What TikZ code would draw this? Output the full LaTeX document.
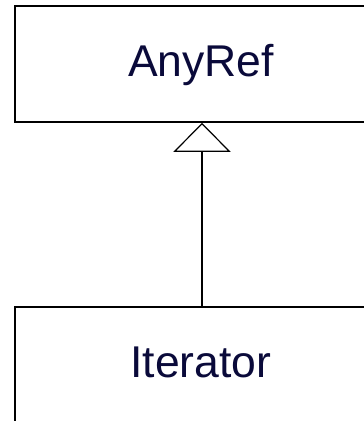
\documentclass[tikz,border=0pt]{standalone}
\usepackage{fontspec}
\setmainfont{Liberation Sans}
\usetikzlibrary{arrows.meta}
\definecolor{txtnavy}{HTML}{0A0A3A}
\tikzset{
  classbox/.style={draw=black, line width=1.6pt, fill=white, rectangle,
    minimum width=372pt, minimum height=116pt, inner sep=0pt,
    text=txtnavy, font=\fontsize{44.5}{52}\selectfont,
    text height=32pt, text depth=8pt},
  inherit/.style={line width=1.4pt, draw=black,
    -{Triangle[open, length=29pt, width=57pt, line width=1.2pt]}}
}
\begin{document}
\begin{tikzpicture}[x=1pt,y=1pt]
\useasboundingbox (0,0) rectangle (364,-421);
\clip (0,0) rectangle (364,-421);
\fill[white] (0,0) rectangle (364,-421);
\node[classbox] (anyref) at (201,-64) {AnyRef};
\node[classbox] (iterator) at (201,-365) {Iterator};
\draw[inherit] ([xshift=1pt]iterator.north) -- ([xshift=1pt]anyref.south);
\end{tikzpicture}
\end{document}
